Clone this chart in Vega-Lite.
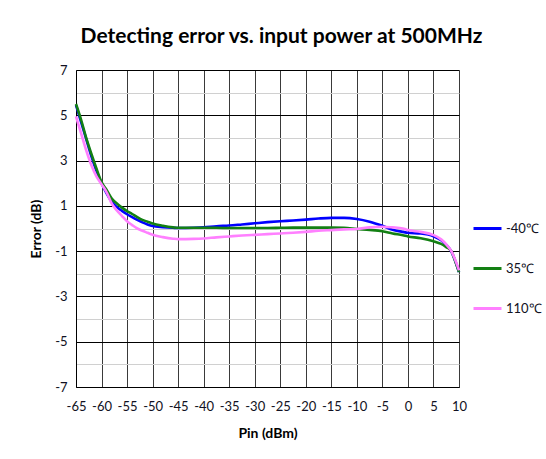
{
  "$schema": "https://vega.github.io/schema/vega-lite/v6.json",
  "width": 383,
  "height": 317,
  "autosize": {"type": "none"},
  "padding": {"left": 76, "top": 70, "right": 87, "bottom": 72},
  "background": "white",
  "title": {
    "text": "Detecting error vs. input power at 500MHz",
    "font": "Lato",
    "fontSize": 21,
    "fontWeight": "bold",
    "color": "#000000",
    "anchor": "middle",
    "dx": 14,
    "offset": 17
  },
  "config": {
    "view": {"stroke": null},
    "font": "Lato"
  },
  "data": {
    "values": [
      {"pin": -65, "series": "-40℃", "error": 5.45},
      {"pin": -64, "series": "-40℃", "error": 4.7},
      {"pin": -63, "series": "-40℃", "error": 3.95},
      {"pin": -62, "series": "-40℃", "error": 3.2},
      {"pin": -61, "series": "-40℃", "error": 2.55},
      {"pin": -60, "series": "-40℃", "error": 2.0},
      {"pin": -59, "series": "-40℃", "error": 1.55},
      {"pin": -58, "series": "-40℃", "error": 1.18},
      {"pin": -57, "series": "-40℃", "error": 0.95},
      {"pin": -56, "series": "-40℃", "error": 0.78},
      {"pin": -55, "series": "-40℃", "error": 0.63},
      {"pin": -54, "series": "-40℃", "error": 0.5},
      {"pin": -53, "series": "-40℃", "error": 0.38},
      {"pin": -52, "series": "-40℃", "error": 0.27},
      {"pin": -51, "series": "-40℃", "error": 0.18},
      {"pin": -50, "series": "-40℃", "error": 0.11},
      {"pin": -48, "series": "-40℃", "error": 0.06},
      {"pin": -46, "series": "-40℃", "error": 0.03},
      {"pin": -45, "series": "-40℃", "error": 0.02},
      {"pin": -42, "series": "-40℃", "error": 0.03},
      {"pin": -40, "series": "-40℃", "error": 0.05},
      {"pin": -37.5, "series": "-40℃", "error": 0.1},
      {"pin": -35, "series": "-40℃", "error": 0.13},
      {"pin": -32.5, "series": "-40℃", "error": 0.18},
      {"pin": -30, "series": "-40℃", "error": 0.23},
      {"pin": -27.5, "series": "-40℃", "error": 0.28},
      {"pin": -25, "series": "-40℃", "error": 0.32},
      {"pin": -22.5, "series": "-40℃", "error": 0.35},
      {"pin": -20, "series": "-40℃", "error": 0.39},
      {"pin": -17.5, "series": "-40℃", "error": 0.44},
      {"pin": -15, "series": "-40℃", "error": 0.47},
      {"pin": -12.5, "series": "-40℃", "error": 0.47},
      {"pin": -10, "series": "-40℃", "error": 0.42},
      {"pin": -7.5, "series": "-40℃", "error": 0.3},
      {"pin": -5, "series": "-40℃", "error": 0.12},
      {"pin": -3, "series": "-40℃", "error": -0.05},
      {"pin": -1, "series": "-40℃", "error": -0.15},
      {"pin": 0, "series": "-40℃", "error": -0.19},
      {"pin": 2.5, "series": "-40℃", "error": -0.22},
      {"pin": 5, "series": "-40℃", "error": -0.34},
      {"pin": 6.5, "series": "-40℃", "error": -0.52},
      {"pin": 7.5, "series": "-40℃", "error": -0.72},
      {"pin": 8.5, "series": "-40℃", "error": -1.02},
      {"pin": 9.2, "series": "-40℃", "error": -1.4},
      {"pin": 10, "series": "-40℃", "error": -1.92},

      {"pin": -65, "series": "35℃", "error": 5.5},
      {"pin": -64, "series": "35℃", "error": 4.8},
      {"pin": -63, "series": "35℃", "error": 4.0},
      {"pin": -62, "series": "35℃", "error": 3.3},
      {"pin": -61, "series": "35℃", "error": 2.65},
      {"pin": -60, "series": "35℃", "error": 2.05},
      {"pin": -59, "series": "35℃", "error": 1.7},
      {"pin": -58, "series": "35℃", "error": 1.32},
      {"pin": -57, "series": "35℃", "error": 1.1},
      {"pin": -56, "series": "35℃", "error": 0.92},
      {"pin": -55, "series": "35℃", "error": 0.77},
      {"pin": -54, "series": "35℃", "error": 0.64},
      {"pin": -53, "series": "35℃", "error": 0.5},
      {"pin": -52, "series": "35℃", "error": 0.38},
      {"pin": -51, "series": "35℃", "error": 0.3},
      {"pin": -50, "series": "35℃", "error": 0.22},
      {"pin": -48, "series": "35℃", "error": 0.12},
      {"pin": -46, "series": "35℃", "error": 0.05},
      {"pin": -45, "series": "35℃", "error": 0.03},
      {"pin": -42, "series": "35℃", "error": 0.03},
      {"pin": -40, "series": "35℃", "error": 0.03},
      {"pin": -37.5, "series": "35℃", "error": 0.03},
      {"pin": -35, "series": "35℃", "error": 0.02},
      {"pin": -32.5, "series": "35℃", "error": 0.02},
      {"pin": -30, "series": "35℃", "error": 0.02},
      {"pin": -27.5, "series": "35℃", "error": 0.02},
      {"pin": -25, "series": "35℃", "error": 0.03},
      {"pin": -22.5, "series": "35℃", "error": 0.04},
      {"pin": -20, "series": "35℃", "error": 0.04},
      {"pin": -17.5, "series": "35℃", "error": 0.04},
      {"pin": -15, "series": "35℃", "error": 0.04},
      {"pin": -12.5, "series": "35℃", "error": 0.03},
      {"pin": -10, "series": "35℃", "error": -0.02},
      {"pin": -7.5, "series": "35℃", "error": -0.06},
      {"pin": -5, "series": "35℃", "error": -0.12},
      {"pin": -3, "series": "35℃", "error": -0.22},
      {"pin": -1, "series": "35℃", "error": -0.3},
      {"pin": 0, "series": "35℃", "error": -0.35},
      {"pin": 2.5, "series": "35℃", "error": -0.43},
      {"pin": 5, "series": "35℃", "error": -0.56},
      {"pin": 6.5, "series": "35℃", "error": -0.68},
      {"pin": 7.5, "series": "35℃", "error": -0.82},
      {"pin": 8.5, "series": "35℃", "error": -1.0},
      {"pin": 9.2, "series": "35℃", "error": -1.4},
      {"pin": 10, "series": "35℃", "error": -1.92},

      {"pin": -65, "series": "110℃", "error": 4.95},
      {"pin": -64, "series": "110℃", "error": 4.2},
      {"pin": -63, "series": "110℃", "error": 3.45},
      {"pin": -62, "series": "110℃", "error": 2.8},
      {"pin": -61, "series": "110℃", "error": 2.3},
      {"pin": -60, "series": "110℃", "error": 1.95},
      {"pin": -59, "series": "110℃", "error": 1.6},
      {"pin": -58, "series": "110℃", "error": 1.1},
      {"pin": -57, "series": "110℃", "error": 0.8},
      {"pin": -56, "series": "110℃", "error": 0.55},
      {"pin": -55, "series": "110℃", "error": 0.32},
      {"pin": -54, "series": "110℃", "error": 0.15},
      {"pin": -53, "series": "110℃", "error": 0.0},
      {"pin": -52, "series": "110℃", "error": -0.1},
      {"pin": -51, "series": "110℃", "error": -0.19},
      {"pin": -50, "series": "110℃", "error": -0.28},
      {"pin": -48, "series": "110℃", "error": -0.38},
      {"pin": -46, "series": "110℃", "error": -0.45},
      {"pin": -45, "series": "110℃", "error": -0.47},
      {"pin": -42, "series": "110℃", "error": -0.46},
      {"pin": -40, "series": "110℃", "error": -0.44},
      {"pin": -37.5, "series": "110℃", "error": -0.39},
      {"pin": -35, "series": "110℃", "error": -0.35},
      {"pin": -32.5, "series": "110℃", "error": -0.31},
      {"pin": -30, "series": "110℃", "error": -0.28},
      {"pin": -27.5, "series": "110℃", "error": -0.25},
      {"pin": -25, "series": "110℃", "error": -0.22},
      {"pin": -22.5, "series": "110℃", "error": -0.19},
      {"pin": -20, "series": "110℃", "error": -0.15},
      {"pin": -17.5, "series": "110℃", "error": -0.1},
      {"pin": -15, "series": "110℃", "error": -0.07},
      {"pin": -12.5, "series": "110℃", "error": -0.04},
      {"pin": -10, "series": "110℃", "error": -0.02},
      {"pin": -7.5, "series": "110℃", "error": 0.05},
      {"pin": -5, "series": "110℃", "error": 0.08},
      {"pin": -3, "series": "110℃", "error": 0.05},
      {"pin": -1, "series": "110℃", "error": 0.0},
      {"pin": 0, "series": "110℃", "error": -0.07},
      {"pin": 2.5, "series": "110℃", "error": -0.15},
      {"pin": 5, "series": "110℃", "error": -0.29},
      {"pin": 6.5, "series": "110℃", "error": -0.48},
      {"pin": 7.5, "series": "110℃", "error": -0.7},
      {"pin": 8.5, "series": "110℃", "error": -1.0},
      {"pin": 9.2, "series": "110℃", "error": -1.35},
      {"pin": 10, "series": "110℃", "error": -1.85}
    ]
  },
  "mark": {"type": "line", "strokeWidth": 2.6, "interpolate": "monotone"},
  "encoding": {
    "x": {
      "field": "pin",
      "type": "quantitative",
      "scale": {"domain": [-65, 10], "nice": false, "zero": false},
      "axis": {
        "title": "Pin (dBm)",
        "titleFont": "Lato",
        "titleFontSize": 14,
        "titleFontWeight": "bold",
        "titleColor": "#000000",
        "titlePadding": 13,
        "values": [-65, -60, -55, -50, -45, -40, -35, -30, -25, -20, -15, -10, -5, 0, 5, 10],
        "labelExpr": "toString(datum.value)",
        "labelFont": "Lato",
        "labelFontSize": 13,
        "labelColor": "#111122",
        "labelPadding": 13,
        "labelFlush": false,
        "ticks": false,
        "domain": true,
        "domainColor": "#000000",
        "domainWidth": 1,
        "grid": true,
        "gridColor": "#3a3a3a",
        "gridWidth": 1,
        "gridOpacity": 1
      }
    },
    "y": {
      "field": "error",
      "type": "quantitative",
      "scale": {"domain": [-7, 7], "nice": false, "zero": false},
      "axis": {
        "title": "Error (dB)",
        "titleFont": "Lato",
        "titleFontSize": 14,
        "titleFontWeight": "bold",
        "titleColor": "#000000",
        "titlePadding": 11,
        "values": [-7, -6, -5, -4, -3, -2, -1, 0, 1, 2, 3, 4, 5, 6, 7],
        "labelExpr": "abs(datum.value) % 2 == 1 ? toString(datum.value) : ''",
        "labelFont": "Lato",
        "labelFontSize": 13,
        "labelColor": "#111122",
        "labelPadding": 9,
        "labelFlush": false,
        "ticks": false,
        "domain": true,
        "domainColor": "#000000",
        "domainWidth": 1,
        "grid": true,
        "gridColor": {"condition": {"test": "abs(datum.value) % 2 == 0", "value": "#d0d0d0"}, "value": "#000000"},
        "gridWidth": 1,
        "gridOpacity": 1
      }
    },
    "color": {
      "field": "series",
      "type": "nominal",
      "scale": {"domain": ["-40℃", "35℃", "110℃"], "range": ["#0000ff", "#138013", "#ff80ff"]},
      "legend": {
        "title": null,
        "orient": "none",
        "legendX": 396,
        "legendY": 143,
        "symbolType": "stroke",
        "symbolSize": 784,
        "symbolStrokeWidth": 3,
        "labelFont": "Lato",
        "labelFontSize": 13,
        "labelColor": "#111122",
        "labelOffset": 3,
        "rowPadding": 17
      }
    }
  }
}
